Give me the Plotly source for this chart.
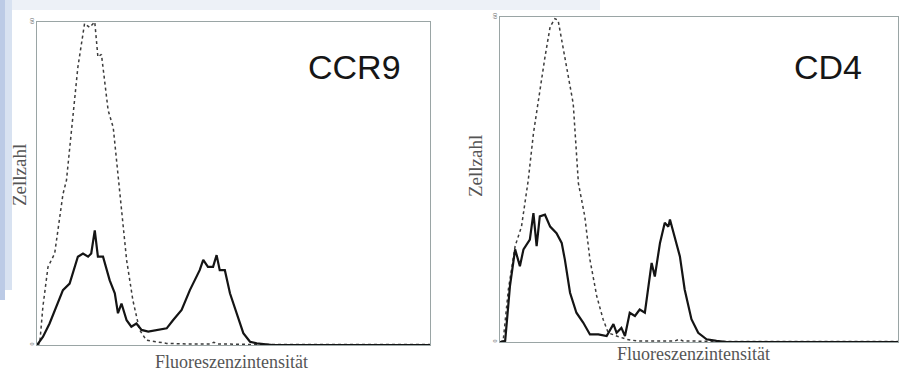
import plotly.graph_objects as go

# ---- data: x = relative fluorescence channel (0-100), y = cell count (0-60)
ccr9_iso_x = [0, 0.7, 1.5, 2.8, 4.5, 6.6, 7.5, 8.8, 10.4, 12.1, 13.4, 14.7, 15.5, 16.4, 18.1, 19.4, 21.5, 22.8, 24.4, 26.1, 27.8, 30.4, 33, 38, 44, 45, 46, 55, 70, 100]
ccr9_iso_y = [0, 0.3, 7.1, 14.5, 17, 28, 30.6, 40.4, 51.6, 59.7, 59, 60, 53.5, 54, 43.6, 40.4, 24.4, 15.8, 8.3, 2.8, 0.9, 0.6, 0.3, 0.2, 0.2, 0.5, 0.2, 0.1, 0.1, 0.1]

ccr9_x = [0, 1.5, 3.2, 4.5, 6.6, 8.3, 10.4, 11.7, 13, 13.8, 14.7, 15.5, 16.8, 18.5, 19.8, 20.6, 21.5, 22.8, 24, 25.3, 26.6, 28.3, 30.4, 33, 34.6, 36.8, 38.9, 41.4, 42.3, 43.5, 44.8, 45.7, 46.5, 47.8, 49.1, 50.8, 52.5, 54.2, 55.9, 60, 100]
ccr9_y = [0, 1.5, 4, 6.5, 10.2, 11.4, 16.4, 17, 16.4, 17, 21.3, 16.4, 16.4, 12, 9.6, 5.9, 7.7, 4.6, 3.4, 4, 2.8, 2.5, 2.8, 3.1, 4.6, 6.5, 10.2, 13.9, 15.8, 14.5, 14.5, 16.7, 13.9, 13.9, 9.6, 5.9, 2.2, 0.6, 0.3, 0, 0]

cd4_iso_x = [0, 0.8, 2.1, 3.8, 5.4, 7.1, 8.4, 9.6, 11.3, 12.6, 13.8, 14.6, 15.9, 17.2, 18.4, 19.7, 21.3, 22.6, 24.3, 25.9, 27.2, 29.3, 31.8, 34.3, 40, 44, 45, 46, 55, 100]
cd4_iso_y = [0, 0.2, 9.7, 17.7, 21.3, 29.9, 38.5, 44.6, 52.6, 58.2, 59.7, 59.4, 53.9, 48.3, 44, 29.3, 23.2, 15.2, 8.5, 4.2, 1.7, 1.1, 0.5, 0.2, 0.2, 0.2, 0.5, 0.2, 0.1, 0.1]

cd4_x = [0, 1.3, 2.5, 3.8, 5, 5.9, 7.5, 8.4, 9.2, 10, 11.3, 12.6, 14.2, 15.5, 16.3, 17.6, 19.2, 20.9, 22.6, 24.7, 26.8, 28.5, 29.3, 30.5, 31.4, 32.6, 33.9, 35.1, 36.4, 38.1, 38.9, 40.2, 41.4, 42.3, 42.7, 44, 45.2, 46.4, 48.1, 49.8, 51.9, 54.4, 57, 100]
cd4_y = [0, 0.2, 10.3, 17.1, 14, 17.1, 18.9, 23.8, 17.7, 23.2, 23.5, 21.3, 20.1, 18.3, 15.2, 9.1, 5.4, 3.6, 1.4, 1.4, 1.1, 3.3, 1.7, 2.6, 1.1, 5.4, 4.8, 6, 5.4, 14.6, 12.1, 18.3, 22, 21.3, 22.6, 18.8, 15.8, 9.7, 4.2, 1.7, 0.5, 0.2, 0, 0]

panel_titles = ["CCR9", "CD4"]
y_label = "Zellzahl"
x_label = "Fluoreszenzintensität"
y_tick_vals = [0, 60]
y_tick_text = ["0", "60"]

W, H = 903, 372
def px(x): return x / W
def py(y): return 1 - y / H

fig = go.Figure()

iso_style = dict(color="#3c3c3c", width=1.5, dash="dot")
pos_style = dict(color="#141414", width=2.2)

fig.add_trace(go.Scatter(x=ccr9_iso_x, y=ccr9_iso_y, mode="lines", line=iso_style, xaxis="x", yaxis="y", showlegend=False))
fig.add_trace(go.Scatter(x=ccr9_x, y=ccr9_y, mode="lines", line=pos_style, xaxis="x", yaxis="y", showlegend=False))
fig.add_trace(go.Scatter(x=cd4_iso_x, y=cd4_iso_y, mode="lines", line=iso_style, xaxis="x2", yaxis="y2", showlegend=False))
fig.add_trace(go.Scatter(x=cd4_x, y=cd4_y, mode="lines", line=pos_style, xaxis="x2", yaxis="y2", showlegend=False))

frame = dict(showline=True, linecolor="#9aa5a5", linewidth=1, mirror=True, showgrid=False, zeroline=False, automargin=False)
xcommon = dict(range=[0, 100], showticklabels=False, ticks="", **frame)
ycommon = dict(range=[0, 60], tickvals=y_tick_vals, ticktext=y_tick_text, tickangle=-90,
               tickfont=dict(size=6, color="#666", family="Liberation Serif"), ticks="", ticklen=0, **frame)

fig.update_layout(
    width=W, height=H, margin=dict(l=0, r=0, t=0, b=0, autoexpand=False),
    paper_bgcolor="white", plot_bgcolor="white",
    xaxis=dict(domain=[px(37), px(430)], anchor="y", **xcommon),
    yaxis=dict(domain=[py(345), py(22)], anchor="x", **ycommon),
    xaxis2=dict(domain=[px(500), px(898)], anchor="y2", **xcommon),
    yaxis2=dict(domain=[py(342), py(17)], anchor="x2", **ycommon),
)

# faint blue scan tint at left edge / top
shapes = [
    dict(type="rect", xref="paper", yref="paper", x0=0, x1=px(600), y0=py(10), y1=1, fillcolor="#edf1f7", line_width=0, layer="below"),
    dict(type="rect", xref="paper", yref="paper", x0=0, x1=px(5), y0=py(300), y1=1, fillcolor="#bccbe6", line_width=0, layer="below"),
    dict(type="rect", xref="paper", yref="paper", x0=px(5), x1=px(12), y0=py(290), y1=1, fillcolor="#d8e2f1", line_width=0, layer="below"),
]
fig.update_layout(shapes=shapes)

def label(text, x, y, size, family, color, angle=0):
    return dict(text=text, x=px(x), y=py(y), xref="paper", yref="paper", showarrow=False,
                xanchor="center", yanchor="middle", textangle=angle,
                font=dict(family=family, size=size, color=color))

ann = [
    label(panel_titles[0], 354, 67, 34, "Liberation Sans", "#161616"),
    label(panel_titles[1], 828, 67, 34, "Liberation Sans", "#161616"),
    label(y_label, 19, 175, 19, "Liberation Serif", "#555", -90),
    label(y_label, 475, 166, 19, "Liberation Serif", "#555", -90),
    label(x_label, 231, 362, 18, "Liberation Serif", "#555"),
    label(x_label, 693, 354, 18, "Liberation Serif", "#555"),
]
fig.update_layout(annotations=ann)

fig.write_html("out.html", config={"displayModeBar": False},
               post_script="document.body.style.margin='0px';document.body.style.overflow='hidden';")
